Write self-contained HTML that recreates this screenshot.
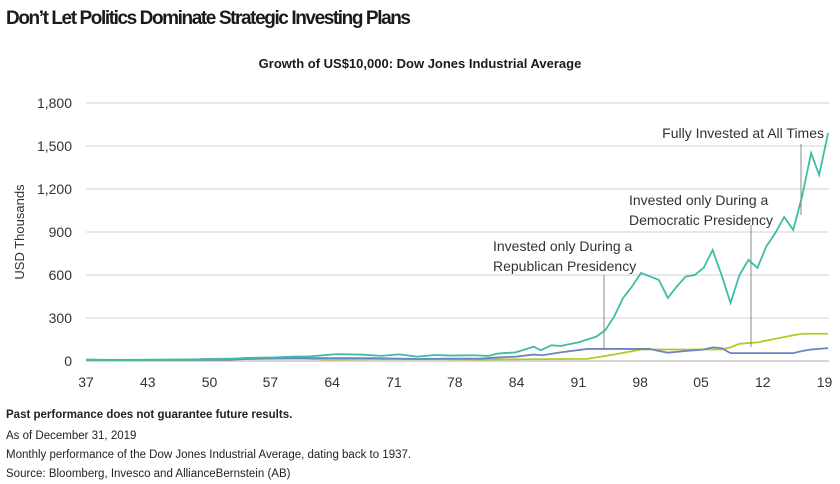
<!DOCTYPE html>
<html><head><meta charset="utf-8"><style>
body{margin:0;background:#fff;width:840px;height:484px;overflow:hidden;font-family:"Liberation Sans",sans-serif}
svg{position:absolute;left:0;top:0}
.t{font-family:"Liberation Sans",sans-serif}
</style></head><body>
<svg width="840" height="484" id="c">
<text x="6" y="24" font-size="19" font-weight="bold" fill="#1a1a1a" class="t" textLength="405">Don’t Let Politics Dominate Strategic Investing Plans</text>
<text x="420" y="68" font-size="13" font-weight="bold" text-anchor="middle" fill="#1a1a1a" class="t">Growth of US$10,000: Dow Jones Industrial Average</text>
<text transform="translate(24,232) rotate(-90)" font-size="13" text-anchor="middle" fill="#333" class="t">USD Thousands</text>
<g id="grid"></g><g id="lines"></g><g id="ann"></g>
<g font-size="11.5" fill="#222" class="t">
<text x="6" y="418" font-weight="bold">Past performance does not guarantee future results.</text>
<text x="6" y="439">As of December 31, 2019</text>
<text x="6" y="458">Monthly performance of the Dow Jones Industrial Average, dating back to 1937.</text>
<text x="6" y="477">Source: Bloomberg, Invesco and AllianceBernstein (AB)</text>
</g>
</svg>
<script>
const yTicks=[0,300,600,900,1200,1500,1800];
const xTickLabels=["37","43","50","57","64","71","78","84","91","98","05","12","19"];
const xTickYears=[1937,1943.9,1950.8,1957.6,1964.5,1971.4,1978.2,1985.1,1992,1998.9,2005.7,2012.6,2019.5];
const fullYears=[1937,1940,1945,1950,1953,1955,1958,1960,1962,1965,1968,1970,1972,1974,1976,1978,1980,1982,1983,1985,1987,1987.8,1989,1990,1992,1994,1995,1996,1997,1998,1999,2000,2001,2002,2003,2004,2005,2006,2007,2008,2009,2010,2011,2012,2013,2014,2015,2016,2017,2018,2018.9,2019.9];
const fullValues=[10,8,9,12,15,22,25,30,32,48,44,36,46,30,42,38,40,36,52,60,100,75,110,105,130,170,215,310,440,520,614,590,565,440,520,590,600,650,774,600,405,600,705,650,800,893,1005,914,1150,1451,1298,1590];
const repYears=[1937,1953,1955,1960,1969,1974,1977,1981,1983,1985,1987,1988,1990,1993,2000,2001,2002,2004,2006,2007,2008,2009,2016,2017,2018,2019.9];
const repValues=[8,8,14,20,20,14,16,16,25,30,45,40,60,84,84,70,58,70,80,95,90,55,55,70,80,90];
const demYears=[1937,1949,1950,1953,1961,1964,1969,1977,1981,1993,1996,1999,2001,2008,2009,2010,2012,2014,2016,2017,2019.9];
const demValues=[5,5,15,16,16,10,12,12,10,15,45,80,80,80,95,120,130,155,180,190,190];
const X0=86,X1=829,Y0=361,Y1=103;
const xs=y=>X0+(y-1937)/(2020-1937)*(X1-X0);
const ys=v=>Y0-v/1800*(Y0-Y1);
const NS="http://www.w3.org/2000/svg";
function mk(t,a,p){const e=document.createElementNS(NS,t);for(const k in a)e.setAttribute(k,a[k]);p.appendChild(e);return e;}
const g=document.getElementById('grid');
yTicks.forEach(v=>{
 const l=mk('line',{x1:X0,x2:X1,y1:ys(v),y2:ys(v),stroke:v===0?'#c8c8c8':'#e0e0e0','stroke-width':1.5},g);
 
 
 const t=mk('text',{x:72,y:ys(v)+5,'text-anchor':'end','font-size':14,fill:'#333','class':'t'},g);
 t.textContent=v.toLocaleString('en-US');
 
 
});
xTickLabels.forEach((s,i)=>{
 const t=mk('text',{x:xs(xTickYears[i]),y:387,'text-anchor':'middle','font-size':14,fill:'#333','class':'t'},g);
 t.textContent=s;
 
 
});
const L=document.getElementById('lines');
function line(yrs,vals,col,name){
 const p=mk('polyline',{points:yrs.map((y,i)=>xs(y)+','+ys(vals[i])).join(' '),fill:'none',stroke:col,'stroke-width':1.8},L);
 
 
}
line(demYears,demValues,'#b3c92a','democratic-line');
line(repYears,repValues,'#6c84c4','republican-line');
line(fullYears,fullValues,'#3dbda6','fully-invested-line');
const A=document.getElementById('ann');
function ann(lines,x,y,anchor,lx,ly1,ly2,name){
 lines.forEach((s,i)=>{const t=mk('text',{x:x,y:y+i*20,'text-anchor':anchor,'font-size':14,fill:'#333','class':'t'},A);t.textContent=s;
 
 });
 const l=mk('line',{x1:lx,x2:lx,y1:ly1,y2:ly2,stroke:'#888','stroke-width':1},A);
 
 
}
ann(["Fully Invested at All Times"],824,138,'end',801,144,215,'fully-invested');
ann(["Invested only During a","Democratic Presidency"],629,205,'start',751,225,347,'democratic');
ann(["Invested only During a","Republican Presidency"],493,251,'start',604,275,350,'republican');
</script>
</body></html>
